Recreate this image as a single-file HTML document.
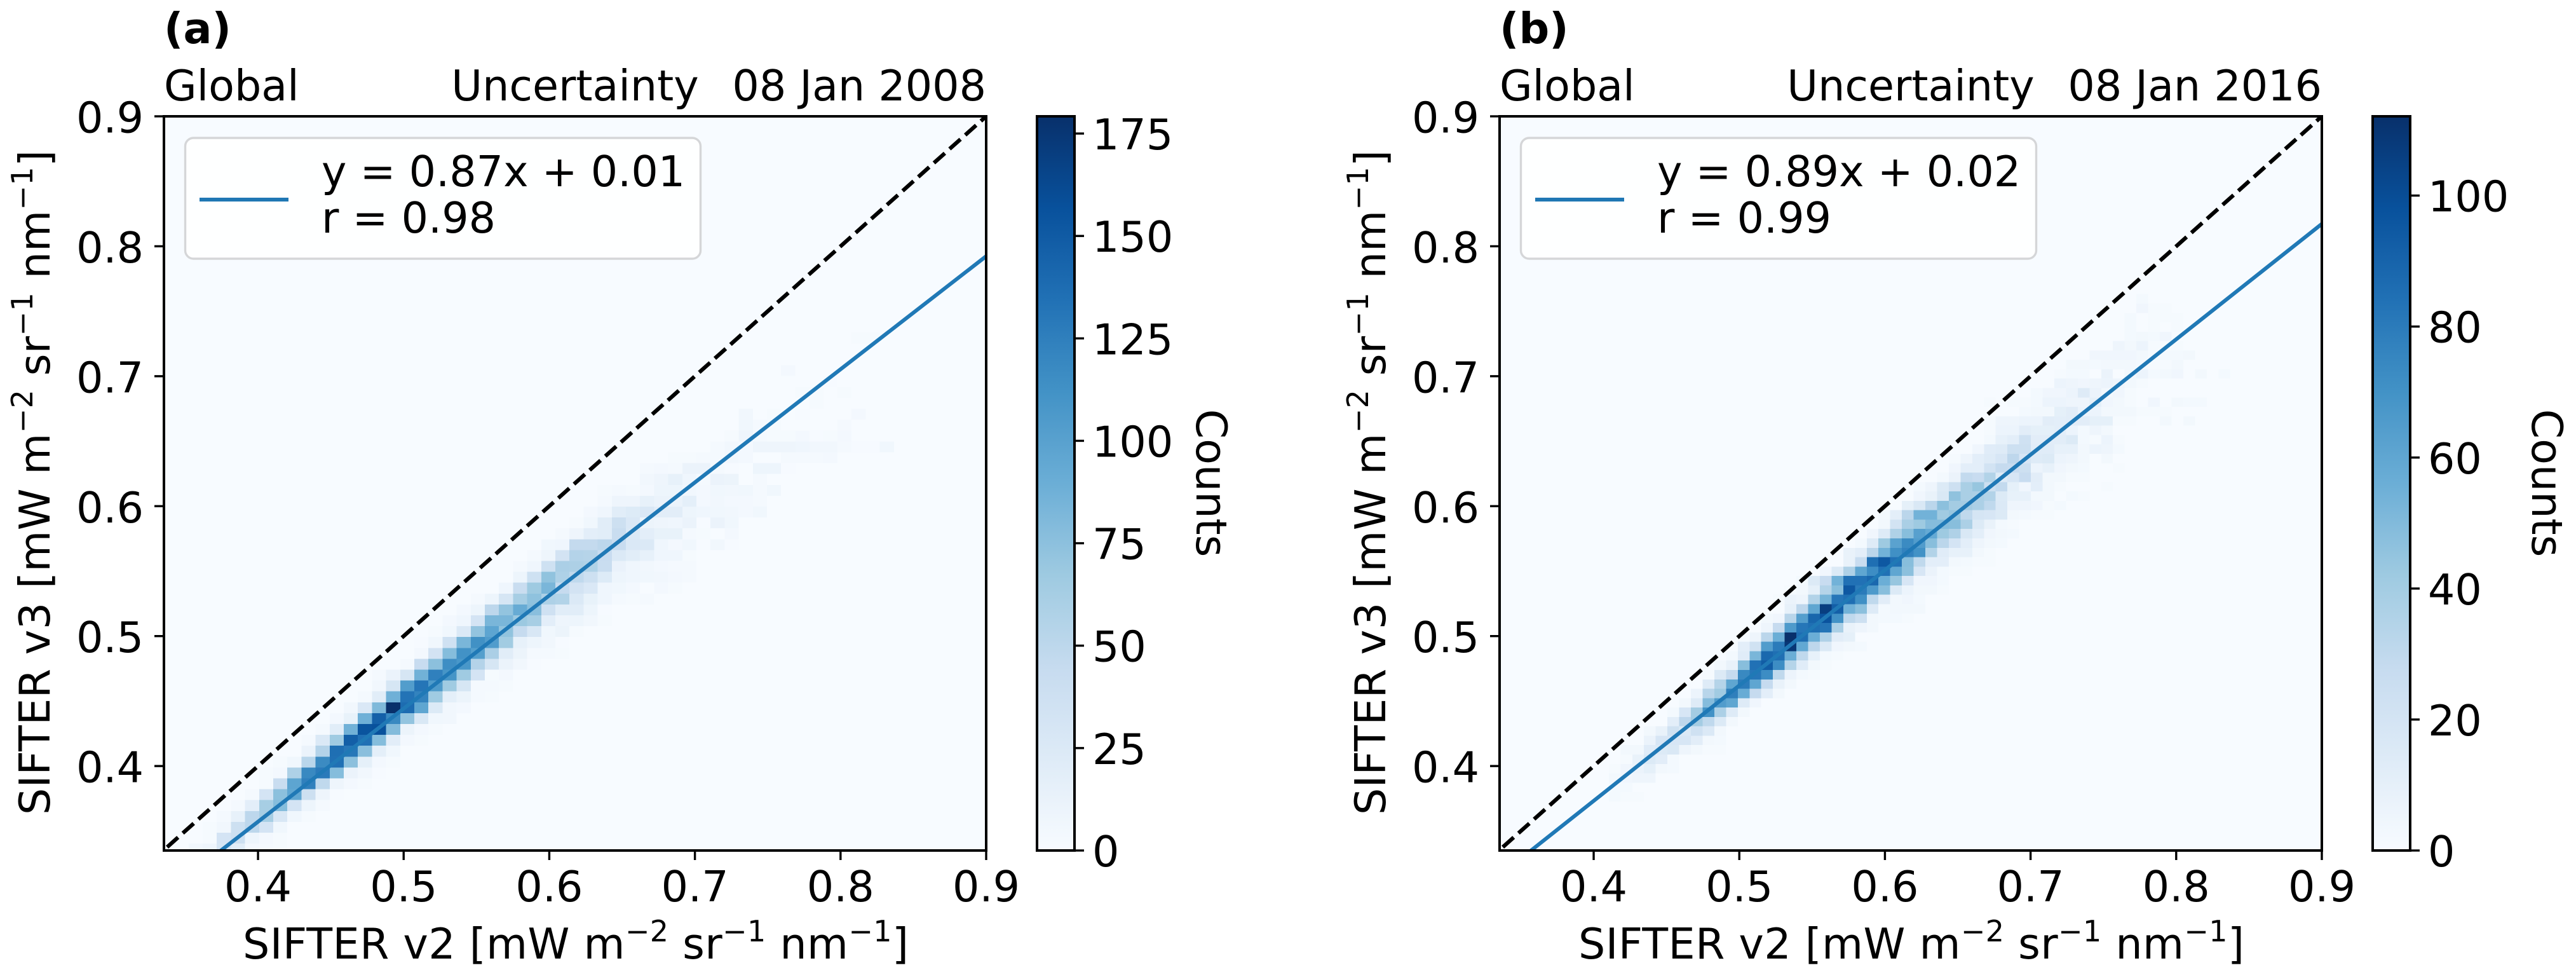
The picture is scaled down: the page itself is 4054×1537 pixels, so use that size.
<!DOCTYPE html>
<html lang="en">
<head>
<meta charset="utf-8">
<title>SIFTER v3 vs v2 uncertainty density comparison</title>
<style>
html,body{margin:0;padding:0;background:#fff;}
svg{display:block;}
text{font-family:"DejaVu Sans","Liberation Sans",sans-serif;fill:#000;}
</style>
</head>
<body>
<svg id="figure" xmlns="http://www.w3.org/2000/svg" width="4054" height="1537" viewBox="0 0 4054 1537">
<rect x="0" y="0" width="4054" height="1537" fill="#ffffff"/>
</svg>
<script>
// ---- shared axis data ----
const xTicks = [0.4, 0.5, 0.6, 0.7, 0.8, 0.9];
const xTickLabels = ['0.4', '0.5', '0.6', '0.7', '0.8', '0.9'];
const yTicks = [0.4, 0.5, 0.6, 0.7, 0.8, 0.9];
const yTickLabels = ['0.4', '0.5', '0.6', '0.7', '0.8', '0.9'];
const axisLimitsX = [0.3354, 0.9];
const axisLimitsY = [0.335, 0.9];
const identityLine = [0.335, 0.9];

// ---- panel (a) data ----
const titleA = ['(a)', 'Global', 'Uncertainty', '08 Jan 2008'];
const legendA = ['y = 0.87x + 0.01', 'r = 0.98'];
const fitA = [0.8704, 0.009];
const colorbarTicksA = [0, 25, 50, 75, 100, 125, 150, 175];
const colorbarMaxA = 179.2;
const binOriginA = [0.33297, 0.33195];
const binWidthA = [0.009686, 0.008366];
const firstRowA = 0;
const rowStartA = [2,3,3,4,5,6,7,7,8,10,10,11,12,13,14,15,15,17,18,18,19,20,21,22,24,25,25,26,27,28,29,30,31,31,34,34,36,39,40,41,41,46,45,47,44,0,0,49];
const rowCountsA = [
[5,8,30,20,4,3,2],
[2,32,38,9,4,2],
[2,5,38,50,32,6],
[3,14,50,62,28,6,2],
[3,18,62,78,32,9,3],
[3,32,75,95,38,8,1],
[2,42,97,124,48,8,4,2],
[2,4,58,118,128,78,11,5,1],
[2,6,52,117,135,75,16,4,2],
[11,55,136,130,76,17,6],
[3,25,66,147,135,78,19,4,2],
[3,20,87,155,157,79,10,4,2],
[4,13,88,146,118,72,27,6,5],
[5,26,81,179,138,96,24,5,4],
[3,20,88,133,122,66,17,10,3,2],
[5,30,103,132,105,66,30,3,3,2],
[3,11,30,87,124,110,66,32,2,4],
[3,43,75,115,108,55,30,11,5,1],
[4,33,78,112,102,60,20,10,3,3,2],
[1,6,36,83,113,104,65,14,9,5,1],
[2,6,25,72,97,73,45,28,6,10,2],
[4,7,32,83,83,68,62,18,8,9,5,2],
[4,9,50,72,92,76,36,20,20,9,1],
[3,9,30,62,74,58,56,25,13,7,3,2,3],
[7,42,67,83,45,33,26,7,6,4,0,4,2],
[9,37,73,58,48,38,23,9,7,6,5,4,3],
[3,7,37,60,59,57,42,12,7,5,4,3,3],
[3,8,33,55,54,43,25,20,14,7,7,2,0],
[6,7,46,46,50,43,26,25,7,4,6,1,5,1],
[3,8,18,20,42,25,18,13,13,3,2,0,4],
[2,6,20,38,26,10,8,7,11,1,11,6],
[4,7,20,23,26,19,19,9,7,6,5,4,6],
[3,8,8,14,11,11,17,4,5,4,4,3],
[2,3,2,4,9,9,5,4,6,5,6,3,6],
[5,8,14,7,3,11,10,0,3],
[3,4,3,11,11,3,1,0,9,9,1],
[2,2,3,3,5,4,0,0,3,3,3,4],
[3,5,4,8,8,8,7,5,5,3,1,1,6],
[2,8,3,2,2,4,1,2,4],
[6,3,2,0,0,0,0,3],
[5,0,2,0,1,0,0,0,4],
[2],
[2,2,0,2],
[1],
[4],
[],
[],
[2,2]
];

// ---- panel (b) data ----
const titleB = ['(b)', 'Global', 'Uncertainty', '08 Jan 2016'];
const legendB = ['y = 0.89x + 0.02', 'r = 0.99'];
const fitB = [0.888, 0.018];
const colorbarTicksB = [0, 20, 40, 60, 80, 100];
const colorbarMaxB = 112.1;
const binOriginB = [0.3299, 0.32932];
const binWidthB = [0.00805, 0.007231];
const firstRowB = 6;
const rowStartB = [10,10,10,10,11,11,13,13,15,15,16,17,18,18,19,20,21,21,23,23,25,24,25,26,28,30,30,31,32,33,33,35,36,36,38,39,39,41,42,42,42,45,42,46,48,48,49,51,53,54,54,54,55,55];
const rowCountsB = [
[2,1,1],
[2,2],
[3,4,5,5],
[1,4,7,10,3,2],
[1,8,15,12,2],
[3,3,13,15,17,5,3,1,1],
[7,18,18,18,12,3,2],
[3,8,22,16,23,16,3],
[11,31,40,30,15,3],
[2,18,40,70,37,14,3],
[3,14,49,65,60,14,4],
[6,33,41,78,57,28,11,3],
[14,34,60,80,60,28,8,3],
[1,15,28,74,82,72,30,6,2,1],
[3,8,48,84,93,72,34,13,3,1],
[2,13,52,88,85,56,30,9,2,1],
[11,22,65,80,109,59,31,16,4,3,2],
[1,5,32,56,112,86,56,36,12,10],
[5,28,66,82,85,83,37,8,5,3],
[3,4,33,64,89,97,70,30,24,3,2,2,1],
[9,31,60,106,92,54,47,14,2,3,3,3],
[1,7,5,35,53,82,85,71,30,12,3,4,2],
[1,3,10,34,48,95,80,66,48,15,6,3,3,1],
[2,15,27,54,84,84,88,56,44,18,4,4,2],
[4,15,36,60,72,84,60,47,18,7,2,1,1],
[8,26,85,95,84,48,30,11,11,3,2,1,1],
[8,11,32,54,71,77,70,35,13,9,9,3,1],
[2,14,42,62,73,65,48,32,20,11,5,3,2],
[4,14,36,48,63,58,42,36,17,11,4,3,2],
[3,21,38,42,49,49,48,37,15,8,2,1],
[2,11,32,54,54,41,44,30,19,18,15,3,2,1,1],
[10,17,32,47,40,40,37,30,16,5,5,4,1,2],
[4,8,17,46,38,37,35,15,9,9,3,3,0,2,1],
[2,5,15,24,38,44,24,29,10,4,11,3,1,0,0,0,1],
[2,7,29,27,35,14,18,27,12,3,3,1,1],
[4,11,11,21,28,27,24,6,9,4,3,2,0,0,1],
[1,5,11,14,18,31,18,14,15,6,5,3,0,3],
[4,13,14,24,24,13,13,9,9,3,6,5,2],
[2,9,11,23,12,12,12,15,2,1,6,1],
[1,6,6,12,10,10,11,6,2,5,3],
[1,5,5,6,6,12,11,12,12,10,10,1,1,0,0,3,0,3],
[2,3,3,10,12,6,6,3,3,3,1,1,1],
[1,0,1,1,2,6,6,5,5,10,4,3,1,0,4,0,3,2,2],
[2,4,4,6,14,7,3,4,1],
[6,5,4,5,6,5,3,1],
[1,2,2,0,7,0,3,6,2,3,4,0,3,0,2],
[3,3,2,3,3,3,2,1,1,3],
[4,4,4,4,3,1,2,2,3],
[5,3,6,1,0,1],
[2,3,2,4],
[2,0,1,0,1],
[2,0,1,1,1],
[4,1,1],
[2]
];

const BLUES = [[247,251,255],[222,235,247],[198,219,239],[158,202,225],[107,174,214],[66,146,198],[33,113,181],[8,81,156],[8,48,107]];
function blues(t) {
  t = Math.max(0, Math.min(1, t));
  const p = t * (BLUES.length - 1), i = Math.min(Math.floor(p), BLUES.length - 2), f = p - i;
  const c = BLUES[i].map((v, k) => Math.round(v + (BLUES[i + 1][k] - v) * f));
  return 'rgb(' + c.join(',') + ')';
}

const SVGNS = 'http://www.w3.org/2000/svg';
const fig = document.getElementById('figure');
function mk(parent, tag, attrs) {
  const el = document.createElementNS(SVGNS, tag);
  for (const k in attrs) el.setAttribute(k, attrs[k]);
  parent.appendChild(el);
  return el;
}
function label(parent, x, y, str, size, anchor, weight) {
  const el = mk(parent, 'text', {x: x, y: y, 'font-size': size, 'text-anchor': anchor || 'start'});
  if (weight) el.setAttribute('font-weight', weight);
  el.textContent = str;
  return el;
}
function unitLabel(parent, prefix, transform, fixedLength) {
  const el = mk(parent, 'text', {x: 0, y: 0, 'font-size': FS, transform: transform, 'text-anchor': 'middle'});
  if (fixedLength) { el.setAttribute('textLength', fixedLength); el.setAttribute('lengthAdjust', 'spacing'); }
  const parts = [[prefix + ' [mW m', 0], ['\u22122', 1], [' sr', 0], ['\u22121', 1], [' nm', 0], ['\u22121', 1], [']', 0]];
  parts.forEach(p => {
    const t = mk(el, 'tspan', {});
    if (p[1]) { t.setAttribute('font-size', 46); t.setAttribute('dy', -27); }
    else if (el.childNodes.length > 1) { t.setAttribute('dy', 27); }
    t.textContent = p[0];
  });
  return el;
}

const FS = 66.67;
const AX_W = 1294, AX_H = 1155, AX_TOP = 183, AX_BOTTOM = 1338;

function drawPanel(cfg) {
  const left = cfg.left, right = left + AX_W;
  const xPx = v => left + (v - axisLimitsX[0]) / (axisLimitsX[1] - axisLimitsX[0]) * AX_W;
  const yPx = v => AX_BOTTOM - (v - axisLimitsY[0]) / (axisLimitsY[1] - axisLimitsY[0]) * AX_H;

  const g = mk(fig, 'g', {});
  
  

  const defs = mk(g, 'defs', {});
  const clip = mk(defs, 'clipPath', {id: cfg.id + '-clip'});
  mk(clip, 'rect', {x: left, y: AX_TOP, width: AX_W, height: AX_H});
  const grad = mk(defs, 'linearGradient', {id: cfg.id + '-cmap', x1: 0, y1: 1, x2: 0, y2: 0});
  for (let s = 0; s <= 16; s++) mk(grad, 'stop', {offset: s / 16, 'stop-color': blues(s / 16)});

  // plot background = zero count colour
  const bg = mk(g, 'rect', {x: left, y: AX_TOP, width: AX_W, height: AX_H, fill: blues(0)});
  
  

  // heatmap cells
  const hm = mk(g, 'g', {'clip-path': 'url(#' + cfg.id + '-clip)', 'shape-rendering': 'crispEdges'});
  
  
  cfg.counts.forEach((vals, ri) => {
    const row = cfg.firstRow + ri;
    const yLo = cfg.origin[1] + row * cfg.bin[1], yHi = yLo + cfg.bin[1];
    vals.forEach((count, ci) => {
      if (!count) return;
      const col = cfg.starts[ri] + ci;
      const xLo = cfg.origin[0] + col * cfg.bin[0], xHi = xLo + cfg.bin[0];
      const cell = mk(hm, 'rect', {x: xPx(xLo).toFixed(2), y: yPx(yHi).toFixed(2), width: (xPx(xHi) - xPx(xLo)).toFixed(2), height: (yPx(yLo) - yPx(yHi)).toFixed(2), fill: blues(count / cfg.vmax)});
      
      
    });
  });

  // 1:1 line and regression
  const lines = mk(g, 'g', {'clip-path': 'url(#' + cfg.id + '-clip)'});
  const oneToOne = mk(lines, 'line', {x1: xPx(identityLine[0]), y1: yPx(identityLine[0]), x2: xPx(identityLine[1]), y2: yPx(identityLine[1]), stroke: '#000', 'stroke-width': 6.2, 'stroke-dasharray': '23 10', 'stroke-dashoffset': 25});
  
  
  const fx0 = axisLimitsX[0], fx1 = axisLimitsX[1];
  const fit = mk(lines, 'line', {x1: xPx(fx0), y1: yPx(cfg.fit[0] * fx0 + cfg.fit[1]), x2: xPx(fx1), y2: yPx(cfg.fit[0] * fx1 + cfg.fit[1]), stroke: '#2079b6', 'stroke-width': 6});
  
  

  // legend
  const lg = mk(g, 'g', {});
  
  
  mk(lg, 'rect', {x: left + 33.5, y: 217, width: 811, height: 190, rx: 13, ry: 13, fill: '#ffffff', 'fill-opacity': 0.85, stroke: '#d5d6d8', 'stroke-width': 3.4});
  const lgLine = mk(lg, 'line', {x1: left + 56, y1: 314, x2: left + 196, y2: 314, stroke: '#1f77b4', 'stroke-width': 6});
  
  
  const lg1 = label(lg, left + 248, 293, cfg.legend[0], FS);
  
  
  const lg2 = label(lg, left + 248, 366, cfg.legend[1], FS);
  
  

  // spines
  const sp = mk(g, 'rect', {x: left, y: AX_TOP, width: AX_W, height: AX_H, fill: 'none', stroke: '#000', 'stroke-width': 4});
  
  

  // x ticks
  xTicks.forEach((v, i) => {
    const t = mk(g, 'line', {x1: xPx(v), y1: AX_BOTTOM, x2: xPx(v), y2: AX_BOTTOM + 15, stroke: '#000', 'stroke-width': 3.4});
    
    
    const l = label(g, xPx(v), 1418, xTickLabels[i], FS, 'middle');
    
    
  });
  // y ticks
  yTicks.forEach((v, i) => {
    const t = mk(g, 'line', {x1: left - 15, y1: yPx(v), x2: left, y2: yPx(v), stroke: '#000', 'stroke-width': 3.4});
    
    
    const l = label(g, left - 32, yPx(v) + 25.5, yTickLabels[i], FS, 'end');
    
    
  });

  // axis titles
  const xt = unitLabel(g, 'SIFTER v2', 'translate(' + (left + 648) + ',1508)', 1048);
  
  
  const yt = unitLabel(g, 'SIFTER v3', 'translate(' + (left - 180) + ',759) rotate(-90)', 1046);
  
  

  // titles
  const tPanel = label(g, left, 68, cfg.title[0], FS, 'start', 'bold');
  
  
  const tL = label(g, left, 158, cfg.title[1], FS, 'start');
  
  
  const tC = label(g, left + AX_W / 2, 158, cfg.title[2], FS, 'middle');
  
  
  const tR = label(g, right, 158, cfg.title[3], FS, 'end');
  
  

  // colorbar
  const cbL = left + 1374, cbR = left + 1433;
  const cbY = v => AX_BOTTOM - v / cfg.vmax * AX_H;
  const cb = mk(g, 'rect', {x: cbL, y: AX_TOP, width: cbR - cbL, height: AX_H, fill: 'url(#' + cfg.id + '-cmap)', stroke: '#000', 'stroke-width': 4});
  
  
  cfg.cbTicks.forEach(v => {
    const t = mk(g, 'line', {x1: cbR, y1: cbY(v), x2: cbR + 15, y2: cbY(v), stroke: '#000', 'stroke-width': 3.4});
    
    
    const l = label(g, cbR + 28, cbY(v) + 25, String(v), FS);
    
    
  });
  const cbT = mk(g, 'text', {x: 0, y: 0, 'font-size': FS, 'text-anchor': 'middle', transform: 'translate(' + (left + 1625) + ',760) rotate(90)'});
  cbT.textContent = 'Counts';
  
  
}

drawPanel({id: 'a', left: 258, title: titleA, legend: legendA, fit: fitA, vmax: colorbarMaxA, cbTicks: colorbarTicksA,
  origin: binOriginA, bin: binWidthA, firstRow: firstRowA, starts: rowStartA, counts: rowCountsA});
drawPanel({id: 'b', left: 2360, title: titleB, legend: legendB, fit: fitB, vmax: colorbarMaxB, cbTicks: colorbarTicksB,
  origin: binOriginB, bin: binWidthB, firstRow: firstRowB, starts: rowStartB, counts: rowCountsB});
</script>
</body>
</html>
